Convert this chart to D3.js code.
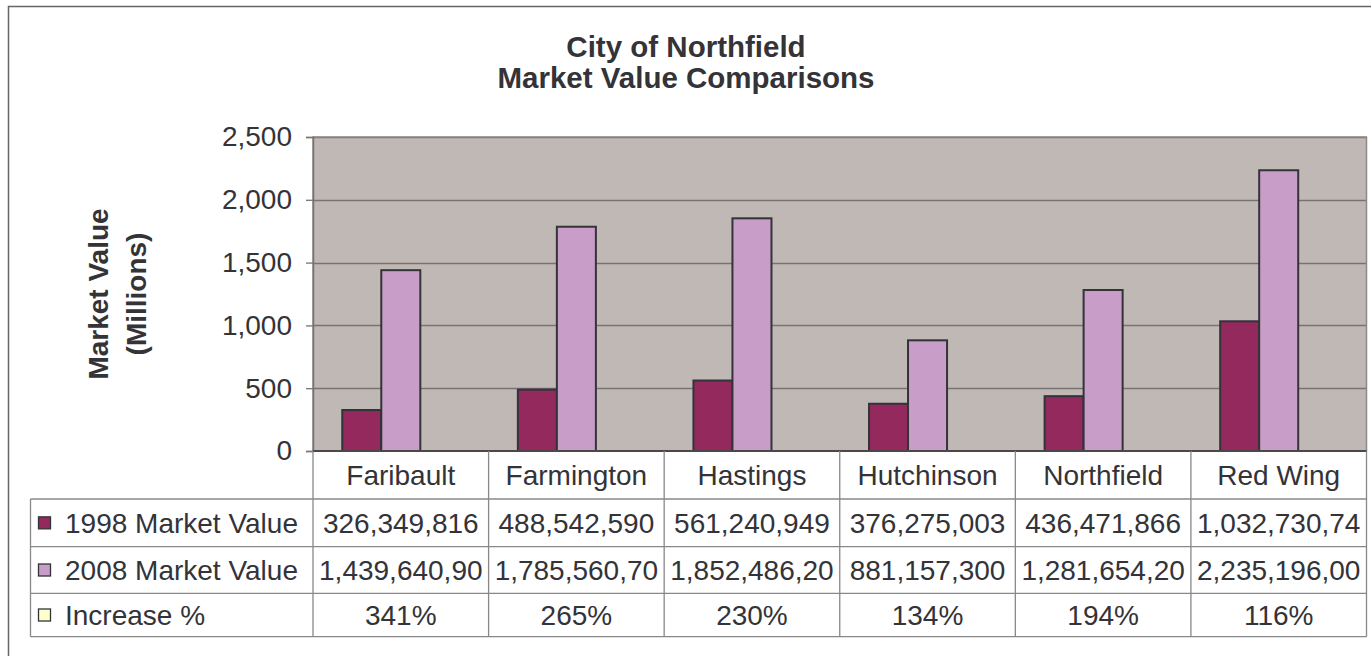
<!DOCTYPE html>
<html>
<head>
<meta charset="utf-8">
<script src="https://cdn.jsdelivr.net/npm/d3@7/dist/d3.min.js"></script>
<style>
  html, body { margin: 0; padding: 0; background: #fff; }
  svg { display: block; }
  text { font-family: "Liberation Sans", Arial, sans-serif; fill: #333338; }
</style>
</head>
<body>
<svg id="chart" width="1371" height="656"></svg>
<script>
// ---- data ----
const titleLines = ["City of Northfield", "Market Value Comparisons"];
const axisTitleLines = ["Market Value", "(Millions)"];
const categories = ["Faribault", "Farmington", "Hastings", "Hutchinson", "Northfield", "Red Wing"];
const seriesNames = ["1998 Market Value", "2008 Market Value", "Increase %"];
// values in millions
const values1998 = [326.349816, 488.542590, 561.240949, 376.275003, 436.471866, 1032.73074];
const values2008 = [1439.64090, 1785.56070, 1852.48620, 881.157300, 1281.65420, 2235.19600];
const valuesIncrease = [3.41, 2.65, 2.30, 1.34, 1.94, 1.16];
// table cell text as shown
const labels1998 = ["326,349,816", "488,542,590", "561,240,949", "376,275,003", "436,471,866", "1,032,730,74"];
const labels2008 = ["1,439,640,90", "1,785,560,70", "1,852,486,20", "881,157,300", "1,281,654,20", "2,235,196,00"];
const labelsIncrease = ["341%", "265%", "230%", "134%", "194%", "116%"];
const yTicks = [0, 500, 1000, 1500, 2000, 2500];
const seriesColors = ["#94295E", "#C89EC8", "#FFFFCC"];

// ---- layout ----
const svg = d3.select("#chart");
const plot = { left: 313, right: 1366.5, top: 137, bottom: 451 };
const table = { left: 30.5, rowEdges: [451, 499, 546.7, 593.3, 636.7] };
const FS = 28;

// outer border
svg.append("rect").attr("x", 8.5).attr("y", 6.5).attr("width", 1380).attr("height", 670)
  .attr("fill", "#fff").attr("stroke", "#666").attr("stroke-width", 1.5);

// title
svg.append("g").selectAll("text").data(titleLines).join("text")
  .attr("x", 686).attr("y", (d, i) => 57 + i * 31)
  .attr("text-anchor", "middle").attr("font-size", 29.5).attr("font-weight", "bold")
  .text(d => d);

const x0 = d3.scaleBand().domain(categories).range([plot.left, plot.right]).paddingInner(0).paddingOuter(0);
const x1 = d3.scaleBand().domain(seriesNames).range([0, x0.bandwidth()]).paddingInner(0).paddingOuter(0.75);
const y = d3.scaleLinear().domain([0, 2500]).range([plot.bottom, plot.top]);

// plot background
svg.append("rect").attr("x", plot.left).attr("y", plot.top)
  .attr("width", plot.right - plot.left).attr("height", plot.bottom - plot.top)
  .attr("fill", "#C0B8B5");

// gridlines
svg.append("g").selectAll("line").data(yTicks.filter(t => t > 0)).join("line")
  .attr("x1", plot.left).attr("x2", plot.right)
  .attr("y1", d => Math.round(y(d)) + 0.5).attr("y2", d => Math.round(y(d)) + 0.5)
  .attr("stroke", "#787373").attr("stroke-width", 1.3);

// plot border
svg.append("rect").attr("x", plot.left).attr("y", plot.top)
  .attr("width", plot.right - plot.left).attr("height", plot.bottom - plot.top)
  .attr("fill", "none").attr("stroke", "#8F8787").attr("stroke-width", 1.5);

// y axis
const yAxis = d3.axisLeft(y).tickValues(yTicks).tickFormat(d3.format(",")).tickSize(7).tickPadding(14);
const ya = svg.append("g").attr("transform", `translate(${plot.left},0)`).call(yAxis);
ya.select(".domain").attr("stroke", "#7a7272").attr("stroke-width", 1.5);
ya.selectAll(".tick line").attr("stroke", "#7a7272").attr("stroke-width", 1.3);
ya.selectAll(".tick text").attr("font-size", FS)
  .attr("font-family", "Liberation Sans, Arial, sans-serif").attr("fill", "#333338");

// axis title
const at = svg.append("g").attr("transform", `translate(0,${(plot.top + plot.bottom) / 2}) rotate(-90)`);
at.selectAll("text").data(axisTitleLines).join("text")
  .attr("x", 0).attr("y", (d, i) => 108 + i * 38)
  .attr("text-anchor", "middle").attr("font-size", 28).attr("font-weight", "bold")
  .text(d => d);

// bars
const seriesData = [values1998, values2008, valuesIncrease];
const bars = svg.append("g");
seriesData.forEach((vals, si) => {
  bars.selectAll(null).data(categories).join("rect")
    .attr("x", c => x0(c) + x1(seriesNames[si]))
    .attr("y", (c, i) => y(vals[i]))
    .attr("width", x1.bandwidth())
    .attr("height", (c, i) => plot.bottom - y(vals[i]))
    .attr("fill", seriesColors[si])
    .attr("stroke", si < 2 ? "#33333a" : "none")
    .attr("stroke-width", 2);
});

// x axis line
svg.append("line").attr("x1", plot.left).attr("x2", plot.right)
  .attr("y1", plot.bottom).attr("y2", plot.bottom)
  .attr("stroke", "#4a4848").attr("stroke-width", 2);

// ---- data table ----
const tg = svg.append("g");
const lineColor = "#888";
const re = table.rowEdges;
re.slice(1).forEach(yy => {
  tg.append("line").attr("x1", table.left).attr("x2", plot.right)
    .attr("y1", yy).attr("y2", yy).attr("stroke", lineColor).attr("stroke-width", 1.3);
});
tg.append("line").attr("x1", table.left).attr("x2", table.left)
  .attr("y1", re[1]).attr("y2", re[4]).attr("stroke", lineColor).attr("stroke-width", 1.3);
const colEdges = categories.map(c => x0(c)).concat([plot.right]);
colEdges.forEach(xx => {
  tg.append("line").attr("x1", xx).attr("x2", xx)
    .attr("y1", re[0]).attr("y2", re[4]).attr("stroke", lineColor).attr("stroke-width", 1.3);
});

// category header
tg.selectAll(null).data(categories).join("text")
  .attr("x", c => x0(c) + x0.bandwidth() / 2)
  .attr("y", (re[0] + re[1]) / 2).attr("dy", "0.36em")
  .attr("text-anchor", "middle").attr("font-size", FS)
  .text(c => c);

// rows
const rowLabels = [labels1998, labels2008, labelsIncrease];
rowLabels.forEach((labs, ri) => {
  const cy = (re[ri + 1] + re[ri + 2]) / 2;
  tg.append("rect").attr("x", 38.5).attr("y", cy - 6).attr("width", 12).attr("height", 12)
    .attr("fill", seriesColors[ri]).attr("stroke", "#33333a").attr("stroke-width", 1.3);
  tg.append("text").attr("x", 65).attr("y", cy).attr("dy", "0.36em")
    .attr("font-size", FS).text(seriesNames[ri]);
  tg.selectAll(null).data(categories).join("text")
    .attr("x", c => x0(c) + x0.bandwidth() / 2)
    .attr("y", cy).attr("dy", "0.36em")
    .attr("text-anchor", "middle").attr("font-size", FS)
    .text((c, i) => labs[i])
    .each(function () {
      const w = this.getComputedTextLength();
      const maxW = x0.bandwidth() - 8;
      if (w > maxW) {
        d3.select(this).attr("textLength", maxW).attr("lengthAdjust", "spacingAndGlyphs");
      }
    });
});
</script>
</body>
</html>
